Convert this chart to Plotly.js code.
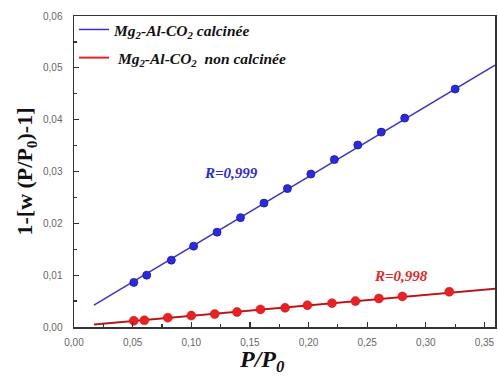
<!DOCTYPE html>
<html>
<head>
<meta charset="utf-8">
<script src="https://cdn.plot.ly/plotly-3.0.1.min.js"></script>
<style>html,body{margin:0;padding:0;background:#fff;}#chart{width:498px;height:376px;}</style>
</head>
<body>
<div id="chart"></div>
<script>
// Measured points
const calcX = [0.051, 0.062, 0.083, 0.102, 0.122, 0.142, 0.162, 0.182, 0.202, 0.222, 0.242, 0.262, 0.282, 0.325];
const calcY = [0.0086, 0.0100, 0.0129, 0.0156, 0.0183, 0.0211, 0.0239, 0.0267, 0.0295, 0.0323, 0.0351, 0.0376, 0.0403, 0.0459];
const nonX = [0.051, 0.060, 0.080, 0.100, 0.120, 0.139, 0.159, 0.180, 0.199, 0.220, 0.240, 0.260, 0.280, 0.320];
const nonY = [0.0012, 0.0013, 0.0018, 0.0022, 0.0025, 0.0029, 0.0034, 0.0037, 0.0042, 0.0046, 0.0050, 0.0055, 0.0059, 0.0068];
// Linear fits (end points)
const fitX = [0.017, 0.359];
const calcFitY = [0.0042, 0.0505];
const nonFitY = [0.00046, 0.0074];
// Labels
const seriesNames = ["Mg<sub>2</sub>-Al-CO<sub>2</sub> calcinée", " Mg<sub>2</sub>-Al-CO<sub>2</sub>  non calcinée"];
const rLabels = ["R=0,999", "R=0,998"];
const xTitle = "<i>P/P<sub>0</sub></i>";
const yTitle = "1-[w (P/P<sub>0</sub>)-1]";
const xTicks = [0, 0.05, 0.10, 0.15, 0.20, 0.25, 0.30, 0.35];
const yTicks = [0, 0.01, 0.02, 0.03, 0.04, 0.05, 0.06];

const blue = '#2a2ae6';
const red = '#ec2020';
const serif = 'Liberation Serif, Times New Roman, serif';

const traces = [
  {x: fitX, y: calcFitY, mode: 'lines', name: seriesNames[0], line: {color: '#3a32c8', width: 1.5}, legendgroup: 'a', showlegend: true},
  {x: calcX, y: calcY, mode: 'markers', marker: {color: blue, size: 8, line: {color: '#1a1a90', width: 0.8}}, showlegend: false, hoverinfo: 'skip'},
  {x: fitX, y: nonFitY, mode: 'lines', name: seriesNames[1], line: {color: red, width: 2}, legendgroup: 'b', showlegend: true},
  {x: fitX, y: nonFitY, mode: 'lines', line: {color: '#602020', width: 0.7}, showlegend: false, hoverinfo: 'skip'},
  {x: nonX, y: nonY, mode: 'markers', marker: {color: red, size: 9, line: {color: '#c01010', width: 0.5}}, showlegend: false, hoverinfo: 'skip'}
];

const tickFont = {family: 'Liberation Sans, Arial, sans-serif', size: 10, color: '#666'};

const layout = {
  width: 498, height: 376,
  margin: {l: 74, r: 3, t: 16, b: 49},
  paper_bgcolor: '#fff', plot_bgcolor: '#fff',
  separators: ', ',
  showlegend: true,
  legend: {x: 0.0, y: 1.01, xanchor: 'left', yanchor: 'top', bgcolor: 'rgba(0,0,0,0)',
    font: {family: serif, size: 15.5, color: '#111', weight: 'bold', style: 'italic'},
    tracegroupgap: 5, itemwidth: 30},
  xaxis: {range: [0, 0.359], tickvals: xTicks, tickformat: '.2f', ticks: 'inside', ticklen: 5, tickwidth: 1.2, tickcolor: '#333',
    minor: {dtick: 0.025, tick0: 0, ticks: 'inside', ticklen: 3, tickcolor: '#333'},
    showline: true, linecolor: '#333', linewidth: 1.5, mirror: true, showgrid: false, zeroline: false,
    tickfont: tickFont, ticklabelstandoff: 5},
  yaxis: {range: [0, 0.06], tickvals: yTicks, tickformat: '.2f', ticks: 'inside', ticklen: 5, tickwidth: 1.2, tickcolor: '#333',
    minor: {dtick: 0.005, tick0: 0, ticks: 'inside', ticklen: 3, tickcolor: '#333'},
    showline: true, linecolor: '#333', linewidth: 1.5, mirror: true, showgrid: false, zeroline: false,
    tickfont: tickFont, ticklabelstandoff: 8,
    title: {text: yTitle, standoff: 4, font: {family: serif, size: 22, color: '#111', weight: 'bold'}}},
  annotations: [
    {x: 0.1336, y: 0.0297, xref: 'x', yref: 'y', text: rLabels[0], showarrow: false,
      font: {family: serif, size: 15, color: '#2a2ad0', weight: 'bold', style: 'italic'}},
    {x: 0.2785, y: 0.0098, xref: 'x', yref: 'y', text: rLabels[1], showarrow: false,
      font: {family: serif, size: 15, color: '#e02828', weight: 'bold', style: 'italic'}},
    {x: (262 - 74) / 421, y: 0, xref: 'paper', yref: 'paper', yshift: -34, xanchor: 'center', yanchor: 'middle',
      text: xTitle, showarrow: false,
      font: {family: serif, size: 24, color: '#111', weight: 'bold'}}
  ]
};

Plotly.newPlot('chart', traces, layout, {displayModeBar: false, staticPlot: true});
</script>
</body>
</html>
